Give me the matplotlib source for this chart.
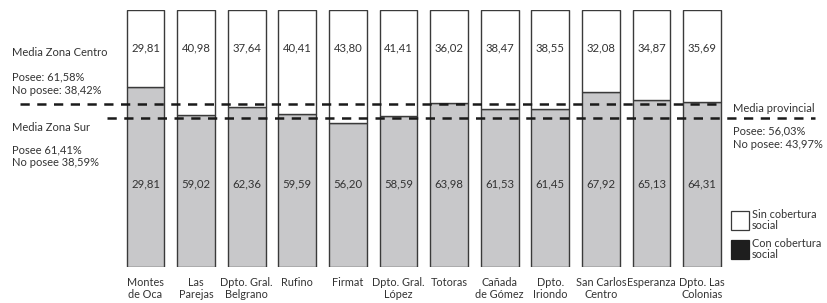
import matplotlib
matplotlib.use("Agg")
import matplotlib.pyplot as plt
from matplotlib.patches import Rectangle
from matplotlib.transforms import blended_transform_factory

categories = ["Montes\nde Oca", "Las\nParejas", "Dpto. Gral.\nBelgrano", "Rufino", "Firmat",
              "Dpto. Gral.\nLópez", "Totoras", "Cañada\nde Gómez", "Dpto.\nIriondo",
              "San Carlos\nCentro", "Esperanza", "Dpto. Las\nColonias"]
sin_cob = [29.81, 40.98, 37.64, 40.41, 43.80, 41.41, 36.02, 38.47, 38.55, 32.08, 34.87, 35.69]
con_cob = [70.19, 59.02, 62.36, 59.59, 56.20, 58.59, 63.98, 61.53, 61.45, 67.92, 65.13, 64.31]
sin_labels = ["29,81", "40,98", "37,64", "40,41", "43,80", "41,41", "36,02", "38,47", "38,55", "32,08", "34,87", "35,69"]
con_labels = ["29,81", "59,02", "62,36", "59,59", "56,20", "58,59", "63,98", "61,53", "61,45", "67,92", "65,13", "64,31"]
ref_lines = [63.4, 57.8]  # dashed reference lines (zone mean / provincial mean), as drawn

W, H = 827, 303
plt.rcParams['font.family'] = ['Lato', 'DejaVu Sans']
TXT = '#333333'
fig = plt.figure(figsize=(W/100, H/100), dpi=100)

def fx(px):
    return px / W

def fy(py):
    return 1 - py / H

s = 50.6
left_px = 145.5 - 0.5 * s
ax = fig.add_axes([fx(left_px), fy(267), fx(12 * s), (267 - 10) / H])
ax.set_xlim(-0.5, 11.5)
ax.set_ylim(0, 100)
ax.axis('off')

x = list(range(len(categories)))
bw = 0.75
ax.bar(x, con_cob, width=bw, color='#c8c8ca', edgecolor='#3a3a3a', linewidth=1.0, zorder=2)
ax.bar(x, sin_cob, bottom=con_cob, width=bw, color='white', edgecolor='#3a3a3a', linewidth=1.0, zorder=2)

for xi, sl, cl, cat in zip(x, sin_labels, con_labels, categories):
    ax.text(xi, 85.3, sl, ha='center', va='center', fontsize=8.2, color=TXT, zorder=3)
    ax.text(xi, 32.3, cl, ha='center', va='center', fontsize=8.2, color=TXT, zorder=3)
    ax.text(xi, -3.8, cat, ha='center', va='top', fontsize=7.8, color=TXT, linespacing=1.1,
            clip_on=False)

tr = blended_transform_factory(fig.transFigure, ax.transData)
ax.plot([fx(20), fx(721)], [ref_lines[0]] * 2, transform=tr, color='#1a1a1a', lw=1.8,
        dashes=(3.7, 3.0), clip_on=False, zorder=4)
ax.plot([fx(107), fx(815)], [ref_lines[1]] * 2, transform=tr, color='#1a1a1a', lw=1.8,
        dashes=(3.7, 3.0), clip_on=False, zorder=4)

def ftext(px, py, s, **kw):
    fig.text(fx(px), fy(py), s, ha='left', va='center', fontsize=8.0, color=TXT, **kw)

ftext(12, 53, "Media Zona Centro")
ftext(12, 77, "Posee: 61,58%")
ftext(12, 90, "No posee: 38,42%")
ftext(12, 127, "Media Zona Sur")
ftext(12, 150, "Posee 61,41%")
ftext(12, 163, "No posee 38,59%")
ftext(733, 108, "Media provincial")
ftext(733, 131, "Posee: 56,03%")
ftext(733, 145, "No posee: 43,97%")

# legend
fig.add_artist(Rectangle((fx(731), fy(230)), fx(18), (230 - 211) / H, transform=fig.transFigure,
                         facecolor='white', edgecolor='#3a3a3a', lw=0.9))
fig.add_artist(Rectangle((fx(731), fy(259)), fx(18), (259 - 240) / H, transform=fig.transFigure,
                         facecolor='#1e1e1e', edgecolor='#1e1e1e', lw=0.9))
fig.text(fx(752), fy(220), "Sin cobertura\nsocial", ha='left', va='center', fontsize=7.8,
         color=TXT, linespacing=0.9)
fig.text(fx(752), fy(249), "Con cobertura\nsocial", ha='left', va='center', fontsize=7.8,
         color=TXT, linespacing=0.9)

fig.savefig("out.png", dpi=100)
